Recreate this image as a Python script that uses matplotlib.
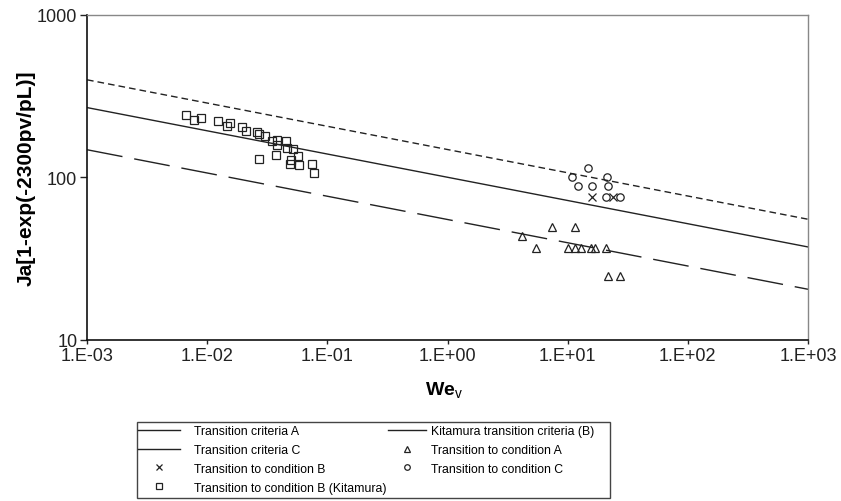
import matplotlib
matplotlib.use("Agg")
import matplotlib.pyplot as plt
from matplotlib.lines import Line2D
from matplotlib.patches import Rectangle

plt.rcParams['font.family'] = ['Liberation Sans', 'DejaVu Sans']
plt.rcParams['mathtext.fontset'] = 'custom'
plt.rcParams['mathtext.rm'] = 'Liberation Sans'
plt.rcParams['mathtext.bf'] = 'Liberation Sans:bold'

# transition criteria lines (end points over the plotted We range)
line_we = [1e-3, 1e3]
crit_a = [147.6, 20.5]      # long dash
crit_b_kit = [268.0, 37.3]  # solid
crit_c = [397.0, 55.2]      # short dash

# transition to condition B (Kitamura) - squares
kit_we = [0.00673, 0.00776, 0.00889, 0.0123, 0.01449, 0.01558, 0.0195, 0.02085,
          0.02582, 0.02716, 0.03057, 0.03464, 0.03835, 0.03835, 0.0453, 0.04661,
          0.0521, 0.0575, 0.0498, 0.0489, 0.0578, 0.0752, 0.0770, 0.02716, 0.0374]
kit_ja = [241, 226, 230, 221, 206, 215, 204, 192,
          190, 184, 178, 168, 169, 158, 166, 152,
          149, 134.5, 127.6, 120.6, 118.4, 120.3, 106.5, 129.5, 137]

# transition to condition A - triangles
a_we = [4.17, 5.45, 7.36, 11.44, 10.06, 11.44, 12.9, 15.73, 16.9, 21.0, 21.8, 27.3]
a_ja = [43.6, 36.9, 49.3, 49.3, 36.9, 36.9, 36.9, 36.9, 36.9, 36.9, 24.7, 24.7]

# transition to condition B - crosses
b_we = [15.9, 24.0]
b_ja = [75.1, 75.3]

# transition to condition C - circles
c_we = [14.76, 10.8, 21.45, 12.3, 15.85, 21.8, 21.0, 27.5]
c_ja = [114, 100.8, 100.8, 88.7, 88.7, 88.7, 75.3, 75.3]

xticks = [1e-3, 1e-2, 1e-1, 1e0, 1e1, 1e2, 1e3]
xticklabels = ['1.E-03', '1.E-02', '1.E-01', '1.E+00', '1.E+01', '1.E+02', '1.E+03']
yticks = [10, 100, 1000]
yticklabels = ['10', '100', '1000']

fig = plt.figure(figsize=(8.41, 5.02), dpi=100)
ax = fig.add_axes([87 / 841, 1 - 341 / 502, 721 / 841, 325.5 / 502])

lc = '#222222'
ax.plot(line_we, crit_a, color=lc, lw=1.0, dashes=(26, 8.6))
ax.plot(line_we, crit_b_kit, color=lc, lw=1.0)
ax.plot(line_we, crit_c, color=lc, lw=1.0, dashes=(4.8, 2.9))

mk = dict(linestyle='none', markerfacecolor='none', markeredgecolor='#222222', markeredgewidth=0.9)
ax.plot(kit_we, kit_ja, marker='s', markersize=5.3, **mk)
ax.plot(a_we, a_ja, marker='^', markersize=6.3, **mk)
ax.plot(c_we, c_ja, marker='o', markersize=5.3, **mk)
ax.plot(b_we, b_ja, marker='x', markersize=6, **mk)

ax.set_xscale('log')
ax.set_yscale('log')
ax.set_xlim(1e-3, 1e3)
ax.set_ylim(10, 1000)
ax.set_xticks(xticks)
ax.set_xticklabels(xticklabels)
ax.set_yticks(yticks)
ax.set_yticklabels(yticklabels)
ax.minorticks_off()
ax.tick_params(direction='out', width=1, labelsize=13, colors='#222222')
ax.tick_params(axis='y', length=5, pad=2)
ax.tick_params(axis='x', length=3, pad=2)

for side in ['left', 'bottom']:
    ax.spines[side].set_color('#111111')
    ax.spines[side].set_linewidth(1.2)
for side in ['top', 'right']:
    ax.spines[side].set_color('#888888')
    ax.spines[side].set_linewidth(1.0)

ax.set_ylabel('Ja[1-exp(-2300pv/pL)]', fontsize=15, fontweight='bold', va='center')
ax.yaxis.set_label_coords(-0.084, 0.5)
ax.set_xlabel(r'$\mathbf{We}_{\mathrm{v}}$', fontsize=14, va='center')
ax.xaxis.set_label_coords(0.495, -0.154)

# legend, drawn as two columns inside one frame
leg_font = dict(size=8.8)
h_a = Line2D([], [], color=lc, lw=1.0)
h_c = Line2D([], [], color=lc, lw=1.0)
h_b = Line2D([], [], marker='x', markersize=5, **mk)
h_kit = Line2D([], [], marker='s', markersize=4, **mk)
h_kline = Line2D([], [], color=lc, lw=1.0)
h_ca = Line2D([], [], marker='^', markersize=5, **mk)
h_cc = Line2D([], [], marker='o', markersize=4, **mk)

common = dict(loc='upper left', frameon=False, borderaxespad=0, borderpad=0,
              labelspacing=0.56, prop=leg_font)
leg1 = fig.legend([h_a, h_c, h_b, h_kit],
                  ['Transition criteria A', 'Transition criteria C',
                   'Transition to condition B', 'Transition to condition B (Kitamura)'],
                  bbox_to_anchor=(138 / 841, 1 - 426 / 502),
                  handlelength=3.4, handletextpad=1.2, **common)
leg2 = fig.legend([h_kline, h_ca, h_cc],
                  ['Kitamura transition criteria (B)', 'Transition to condition A',
                   'Transition to condition C'],
                  bbox_to_anchor=(388 / 841, 1 - 426 / 502),
                  handlelength=3.1, handletextpad=0.45, **common)

fig.patches.append(Rectangle((137 / 841, 1 - 499 / 502), 473 / 841, 76 / 502,
                             transform=fig.transFigure, fill=False,
                             edgecolor='#444444', lw=1.0))

fig.savefig('out.png', dpi=100)
